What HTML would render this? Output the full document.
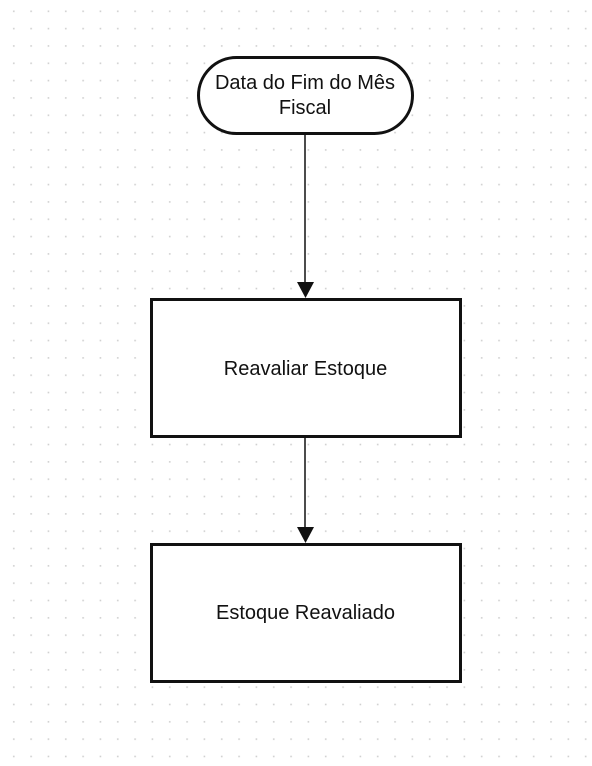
<!DOCTYPE html>
<html><head><meta charset="utf-8"><style>
html,body{margin:0;padding:0;background:#fff;}
svg{display:block}
text{font-family:"Liberation Sans",Arial,sans-serif;font-size:20px;fill:#111;}
</style></head><body>
<svg width="592" height="766" viewBox="0 0 592 766">
<defs><pattern id="g" x="5" y="2.5" width="17.33" height="17.33" patternUnits="userSpaceOnUse"><rect x="8" y="8" width="1.6" height="1.6" fill="#cfcfcf"/></pattern></defs>
<rect width="592" height="766" fill="url(#g)"/>
<rect x="198.5" y="57.5" width="214" height="76" rx="38" fill="#fff" stroke="#111" stroke-width="3"/>
<text x="305" y="89" text-anchor="middle">Data do Fim do Mês</text>
<text x="305" y="114" text-anchor="middle">Fiscal</text>
<line x1="305" y1="134" x2="305" y2="284" stroke="#111" stroke-width="1.5"/>
<polygon points="297,282 314,282 305.5,298" fill="#111"/>
<rect x="151.5" y="299.5" width="309" height="137" fill="#fff" stroke="#111" stroke-width="3"/>
<text x="305.5" y="375" text-anchor="middle">Reavaliar Estoque</text>
<line x1="305" y1="438" x2="305" y2="530" stroke="#111" stroke-width="1.5"/>
<polygon points="297,527 314,527 305.5,543" fill="#111"/>
<rect x="151.5" y="544.5" width="309" height="137" fill="#fff" stroke="#111" stroke-width="3"/>
<text x="305.5" y="619" text-anchor="middle">Estoque Reavaliado</text>
</svg>
</body></html>
